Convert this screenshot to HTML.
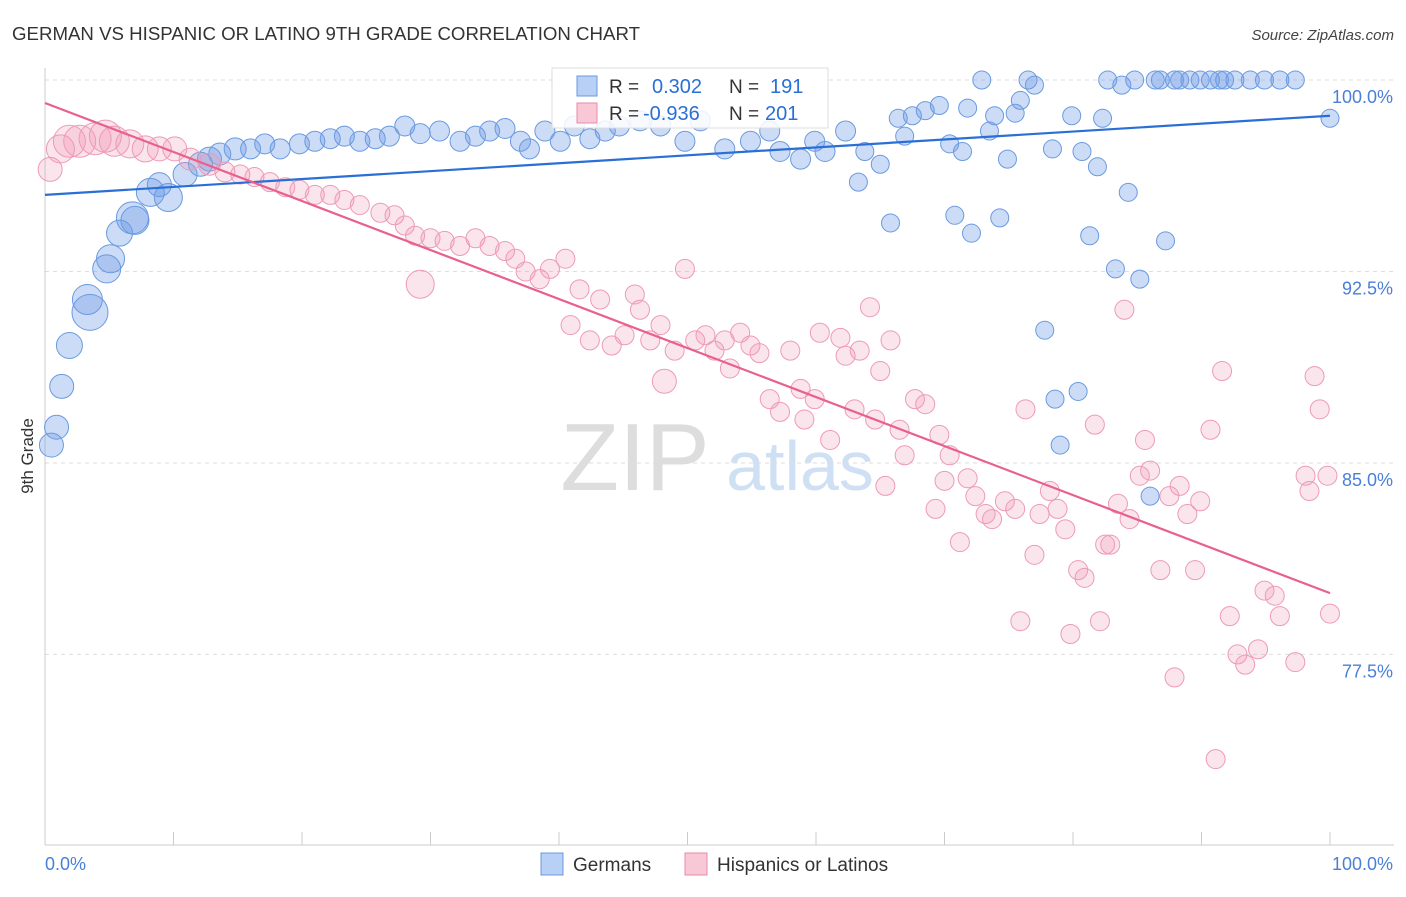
<!DOCTYPE html>
<html><head><meta charset="utf-8"><style>
body{margin:0;background:#fff;font-family:"Liberation Sans",sans-serif;}
svg text{font-family:"Liberation Sans",sans-serif;}
</style></head><body>
<svg id="chart" width="1406" height="892" xmlns="http://www.w3.org/2000/svg">
<text x="12" y="40" font-size="18" fill="#333" textLength="628" lengthAdjust="spacingAndGlyphs">GERMAN VS HISPANIC OR LATINO 9TH GRADE CORRELATION CHART</text>
<text x="1394" y="40" font-size="15" fill="#444" text-anchor="end" font-style="italic">Source: ZipAtlas.com</text>
<text transform="translate(33,456) rotate(-90)" font-size="17" fill="#333" text-anchor="middle">9th Grade</text>
<g>
<text x="635" y="490" font-size="96" fill="#ddd" font-family="Liberation Serif" text-anchor="middle">ZIP</text>
<text x="800" y="490" font-size="70" fill="#cfe0f5" text-anchor="middle">atlas</text>
</g>
<g id="grid"></g><g id="pts"></g><g id="lines"></g>
<g>
<rect x="552" y="68" width="276" height="60" fill="#fff" fill-opacity="0.85" stroke="#ddd"/>
<rect x="577" y="76" width="20" height="20" fill="#b8d0f5" stroke="#6a9ae0"/>
<text x="609" y="93" font-size="19" fill="#333">R =</text><text x="652" y="93" font-size="20" fill="#2a6fd6">0.302</text>
<text x="729" y="93" font-size="19" fill="#333">N =</text><text x="770" y="93" font-size="20" fill="#2a6fd6">191</text>
<rect x="577" y="103" width="20" height="20" fill="#f8c8d6" stroke="#e88aa8"/>
<text x="609" y="120" font-size="19" fill="#333">R =</text><text x="643" y="120" font-size="20" fill="#2a6fd6">-0.936</text>
<text x="729" y="120" font-size="19" fill="#333">N =</text><text x="765" y="120" font-size="20" fill="#2a6fd6">201</text>
</g>
<g>
<rect x="541" y="853" width="22" height="22" fill="#b8d0f5" stroke="#6a9ae0"/>
<text x="573" y="871" font-size="19" fill="#333">Germans</text>
<rect x="685" y="853" width="22" height="22" fill="#f8c8d6" stroke="#e88aa8"/>
<text x="717" y="871" font-size="19" fill="#333">Hispanics or Latinos</text>
</g>
</svg>
<script>
const yTicks=[100,92.5,85,77.5];
const yTickLabels=["100.0%","92.5%","85.0%","77.5%"];
const xTickVals=[0,10,20,30,40,50,60,70,80,90,100];
const blueX=[0.5,0.9,1.3,1.9,3.5,3.3,4.8,5.1,5.8,7.0,6.8,8.2,9.6,8.9,10.9,12.1,12.8,13.6,14.8,16.0,17.1,18.3,19.8,21.0,22.2,23.3,24.5,25.7,26.8,28.0,29.2,30.7,32.3,33.5,34.6,35.8,37.0,37.7,38.9,40.1,41.2,42.4,43.6,44.7,46.3,47.9,49.8,51.0,52.9,54.9,56.4,57.2,58.8,59.9,60.7,62.3,63.3,63.8,65.0,65.8,66.4,66.9,67.5,68.5,69.6,70.4,70.8,71.4,72.1,71.8,72.9,73.5,73.9,74.3,74.9,75.5,75.9,76.5,77.0,77.8,78.6,79.0,78.4,79.9,80.4,80.7,81.3,81.9,82.3,82.7,83.3,83.8,84.3,84.8,85.2,86.0,86.4,87.2,87.9,88.3,89.1,89.9,90.7,91.4,92.6,93.8,94.9,96.1,97.3,100,91.8,86.8];
const blueY=[85.7,86.4,88.0,89.6,90.9,91.4,92.6,93.0,94.0,94.5,94.6,95.6,95.4,95.9,96.3,96.7,96.9,97.1,97.3,97.3,97.5,97.3,97.5,97.6,97.7,97.8,97.6,97.7,97.8,98.2,97.9,98.0,97.6,97.8,98.0,98.1,97.6,97.3,98.0,97.6,98.2,97.7,98.0,98.2,98.4,98.2,97.6,98.4,97.3,97.6,98.0,97.2,96.9,97.6,97.2,98.0,96.0,97.2,96.7,94.4,98.5,97.8,98.6,98.8,99.0,97.5,94.7,97.2,94.0,98.9,100,98.0,98.6,94.6,96.9,98.7,99.2,100,99.8,90.2,87.5,85.7,97.3,98.6,87.8,97.2,93.9,96.6,98.5,100,92.6,99.8,95.6,100,92.2,83.7,100,93.7,100,100,100,100,100,100,100,100,100,100,100,98.5,100,100];
const blueW=[12,12,12,13,18,15,14,14,13,14,16,14,14,12,12,12,12,11,11,10,10,10,10,10,10,10,10,10,10,10,10,10,10,10,10,10,10,10,10,10,10,10,10,10,10,10,10,10,10,10,10,10,10,10,10,10,9,9,9,9,9,9,9,9,9,9,9,9,9,9,9,9,9,9,9,9,9,9,9,9,9,9,9,9,9,9,9,9,9,9,9,9,9,9,9,9,9,9,9,9,9,9,9,9,9,9,9,9,9,9,9,9];
const pinkX=[0.4,1.2,1.9,2.7,3.9,4.7,5.4,6.6,7.8,8.9,10.1,11.3,12.8,14.0,15.2,16.3,17.5,18.7,19.8,21.0,22.2,23.3,24.5,26.1,27.2,28.0,28.8,29.2,30.0,31.1,32.3,33.5,34.6,35.8,36.6,37.4,38.5,39.3,40.5,40.9,41.6,42.4,43.2,44.1,45.1,45.9,46.3,47.1,47.9,48.2,49.0,49.8,50.6,51.4,52.1,52.9,53.3,54.1,54.9,55.6,56.4,57.2,58.0,58.8,59.1,59.9,60.3,61.1,61.9,62.3,63.0,63.4,64.2,64.6,65.0,65.4,65.8,66.5,66.9,67.7,68.5,69.3,69.6,70.0,70.4,71.2,71.8,72.4,73.2,73.7,74.7,75.5,75.9,76.3,77.0,77.4,78.2,78.8,79.4,79.8,80.4,80.9,81.7,82.1,82.5,82.9,83.5,84.0,84.4,85.2,85.6,86.0,86.8,87.5,87.9,88.3,88.9,89.5,89.9,90.7,91.1,91.6,92.2,92.8,93.4,94.4,94.9,95.7,96.1,97.3,98.1,98.4,98.8,99.2,99.8,100];
const pinkY=[96.5,97.3,97.6,97.6,97.7,97.8,97.6,97.5,97.3,97.3,97.3,96.9,96.7,96.4,96.3,96.2,96.0,95.8,95.7,95.5,95.5,95.3,95.1,94.8,94.7,94.3,93.9,92.0,93.8,93.7,93.5,93.8,93.5,93.3,93.0,92.5,92.2,92.6,93.0,90.4,91.8,89.8,91.4,89.6,90.0,91.6,91.0,89.8,90.4,88.2,89.4,92.6,89.8,90.0,89.4,89.8,88.7,90.1,89.6,89.3,87.5,87.0,89.4,87.9,86.7,87.5,90.1,85.9,89.9,89.2,87.1,89.4,91.1,86.7,88.6,84.1,89.8,86.3,85.3,87.5,87.3,83.2,86.1,84.3,85.3,81.9,84.4,83.7,83.0,82.8,83.5,83.2,78.8,87.1,81.4,83.0,83.9,83.2,82.4,78.3,80.8,80.5,86.5,78.8,81.8,81.8,83.4,91.0,82.8,84.5,85.9,84.7,80.8,83.7,76.6,84.1,83.0,80.8,83.5,86.3,73.4,88.6,79.0,77.5,77.1,77.7,80.0,79.8,79.0,77.2,84.5,83.9,88.4,87.1,84.5,79.1];
const pinkW=[12,14,16,16,16,16,15,14,13,12,12,11,11,10];
const blueTrend=[95.5,98.6];
const pinkTrend=[99.1,79.9];
const NS='http://www.w3.org/2000/svg';
const X0=45,X1=1330,YT=80,PPU=25.53,YB=845;
function xs(v){return X0+(X1-X0)*v/100;}
function ys(v){return YT+(100-v)*PPU;}
function mk(tag,attrs,parent){const e=document.createElementNS(NS,tag);for(const k in attrs)e.setAttribute(k,attrs[k]);parent.appendChild(e);return e;}
const grid=document.getElementById('grid');
yTicks.forEach((t,i)=>{
 const l=mk('line',{x1:45,x2:1394,y1:ys(t),y2:ys(t),stroke:'#ddd','stroke-dasharray':'4,4'},grid);
 
 
 const tx=mk('text',{x:1393,y:ys(t)+23,'font-size':18,fill:'#4a7fd8','text-anchor':'end'},grid);
 tx.textContent=yTickLabels[i];
 
 
});
const ax=mk('line',{x1:45,x2:1394,y1:YB,y2:YB,stroke:'#ccc'},grid);


const ay=mk('line',{x1:45,x2:45,y1:68,y2:YB,stroke:'#ccc'},grid);


xTickVals.forEach(t=>{
 const l=mk('line',{x1:xs(t),x2:xs(t),y1:YB,y2:YB-13,stroke:'#ccc'},grid);
 
 
});
const xl0=mk('text',{x:45,y:870,'font-size':18,fill:'#4a7fd8'},grid);xl0.textContent='0.0%';


const xl1=mk('text',{x:1393,y:870,'font-size':18,fill:'#4a7fd8','text-anchor':'end'},grid);xl1.textContent='100.0%';


const pts=document.getElementById('pts');
blueX.forEach((v,i)=>{
 const c=mk('circle',{cx:xs(v),cy:ys(blueY[i]),r:blueW[i]||9,fill:'rgba(110,155,230,0.35)',stroke:'#6a9ae0','stroke-width':1},pts);
 
 
});
pinkX.forEach((v,i)=>{
 const c=mk('circle',{cx:xs(v),cy:ys(pinkY[i]),r:pinkW[i]||(i==27?14:i==49?12:9.5),fill:'rgba(240,150,180,0.25)',stroke:'#ee9ab6','stroke-width':1},pts);
 
 
});
const lines=document.getElementById('lines');
const bl=mk('line',{x1:xs(0),y1:ys(blueTrend[0]),x2:xs(100),y2:ys(blueTrend[1]),stroke:'#2a6fd6','stroke-width':2.2},lines);


const pl=mk('line',{x1:xs(0),y1:ys(pinkTrend[0]),x2:xs(100),y2:ys(pinkTrend[1]),stroke:'#e8608e','stroke-width':2.2},lines);


</script>
</body></html>
